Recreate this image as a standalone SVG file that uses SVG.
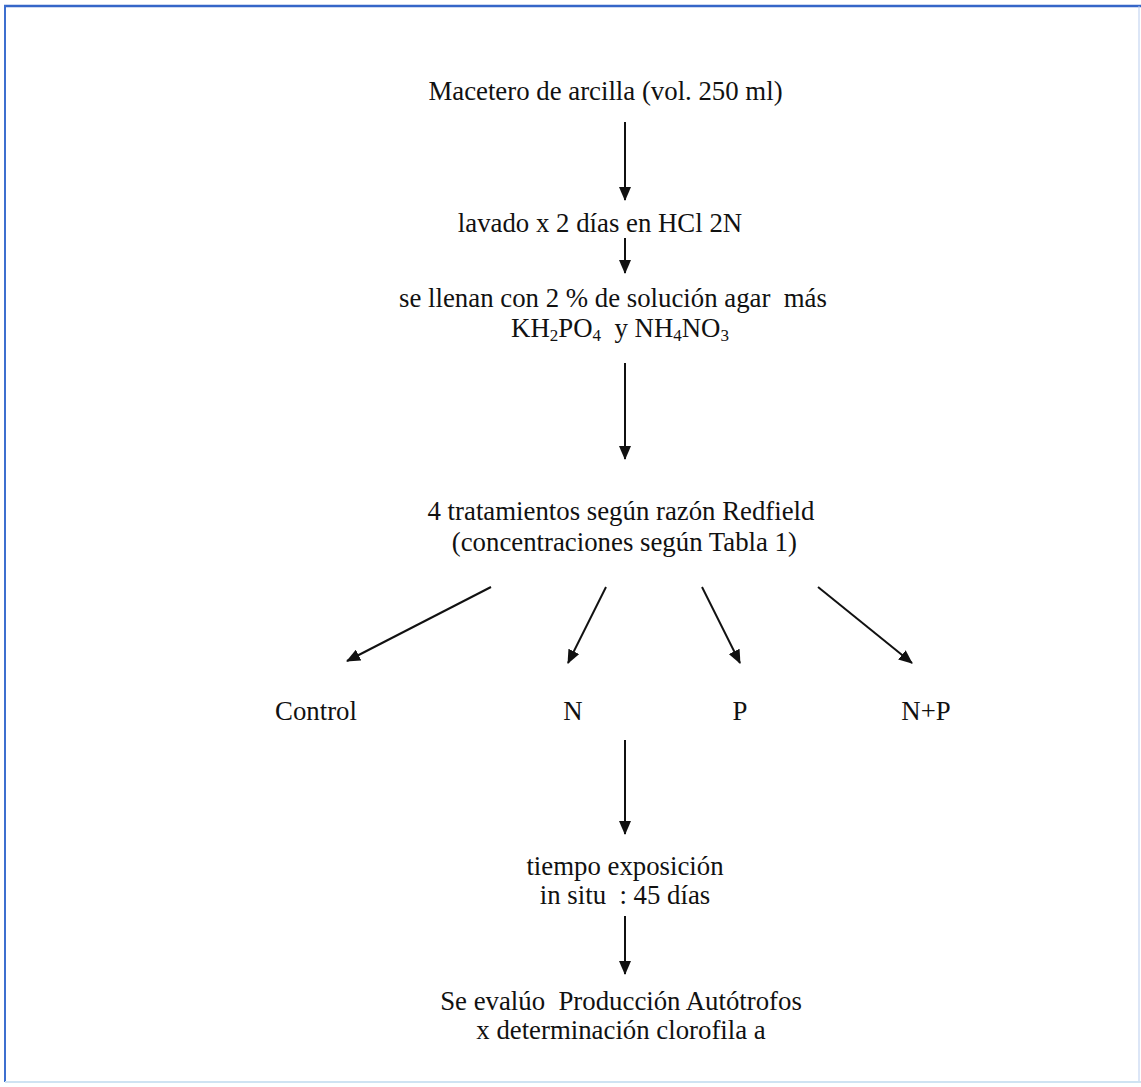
<svg xmlns="http://www.w3.org/2000/svg" width="1141" height="1087" viewBox="0 0 1141 1087">
<style>
.t{font-family:"Liberation Serif","Times New Roman",serif;font-size:26.8px;fill:#111;text-anchor:middle;white-space:pre}
.sub{font-size:17px}
.c{stroke:#111;stroke-width:2;fill:none}
</style>
<defs>
<marker id="ah" viewBox="0 0 14 12" refX="13" refY="6" markerWidth="14" markerHeight="12" markerUnits="userSpaceOnUse" orient="auto">
<path d="M0,0 L14,6 L0,12 Z" fill="#111"/>
</marker>
</defs>
<rect x="0" y="0" width="1141" height="1087" fill="#fff"/>
<g id="frame">
<line x1="4" y1="6" x2="1141" y2="6" stroke="#3566c8" stroke-width="2.5"/>
<line x1="5" y1="5" x2="5" y2="1082" stroke="#3d6fcf" stroke-width="2"/>
<line x1="1139" y1="6" x2="1139" y2="1082" stroke="#b9cdee" stroke-width="1"/>
<line x1="5" y1="1082" x2="1141" y2="1082" stroke="#cfe3f2" stroke-width="2"/>
</g>
<g id="n1"><text class="t" x="605.5" y="100">Macetero de arcilla (vol. 250 ml)</text></g>
<g id="n2"><text class="t" x="600" y="232">lavado x 2 días en HCl 2N</text></g>
<g id="n3"><text class="t" x="613" y="307">se llenan con 2 % de solución agar  más</text>
<text class="t" x="620" y="337">KH<tspan class="sub" dy="4">2</tspan><tspan dy="-4">PO</tspan><tspan class="sub" dy="4">4</tspan><tspan dy="-4">  y NH</tspan><tspan class="sub" dy="4">4</tspan><tspan dy="-4">NO</tspan><tspan class="sub" dy="4">3</tspan></text></g>
<g id="n4"><text class="t" x="621" y="520">4 tratamientos según razón Redfield</text>
<text class="t" x="621" y="551"> (concentraciones según Tabla 1)</text></g>
<g id="n5"><text class="t" x="316" y="720">Control</text></g>
<g id="n6"><text class="t" x="573" y="720">N</text></g>
<g id="n7"><text class="t" x="740" y="720">P</text></g>
<g id="n8"><text class="t" x="926" y="720">N+P</text></g>
<g id="n9"><text class="t" x="625" y="875">tiempo exposición</text>
<text class="t" x="625" y="904">in situ  : 45 días</text></g>
<g id="n10"><text class="t" x="621" y="1010">Se evalúo  Producción Autótrofos</text>
<text class="t" x="621" y="1039">x determinación clorofila a</text></g>
<g id="connectors" class="c">
<line x1="625" y1="122" x2="625" y2="200" marker-end="url(#ah)"/>
<line x1="625" y1="238" x2="625" y2="273" marker-end="url(#ah)"/>
<line x1="625" y1="363" x2="625" y2="459" marker-end="url(#ah)"/>
<line x1="491" y1="587" x2="347" y2="661" marker-end="url(#ah)"/>
<line x1="606" y1="587" x2="568" y2="663" marker-end="url(#ah)"/>
<line x1="702" y1="587" x2="740" y2="663" marker-end="url(#ah)"/>
<line x1="818" y1="587" x2="912" y2="663" marker-end="url(#ah)"/>
<line x1="625" y1="740" x2="625" y2="834" marker-end="url(#ah)"/>
<line x1="625" y1="916" x2="625" y2="974" marker-end="url(#ah)"/>
</g>
</svg>
